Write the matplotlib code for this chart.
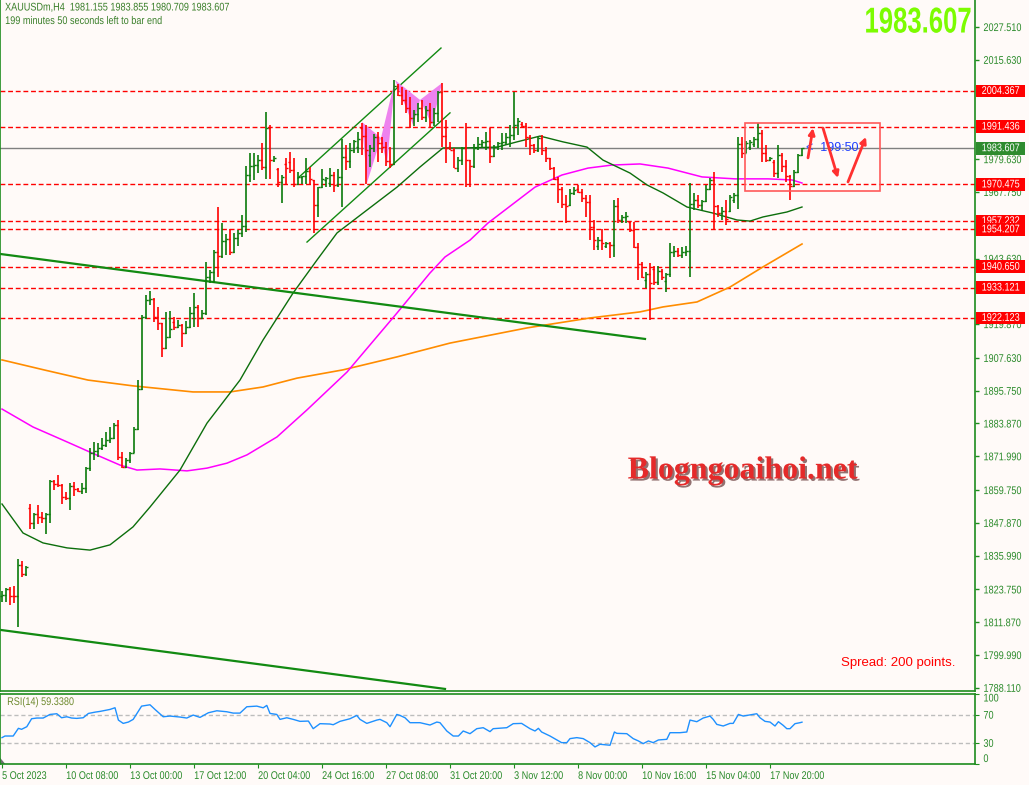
import numpy as np
import matplotlib
matplotlib.use("Agg")
import matplotlib.pyplot as plt
from matplotlib.patches import Polygon, Rectangle
from matplotlib.transforms import Affine2D
import matplotlib.patheffects as pe

plt.rcParams['font.family'] = ['Liberation Sans', 'DejaVu Sans']

# ---- H4 bars, XAUUSDm, 5 Oct .. 21 Nov 2023 ----
opens = [
    1821.4, 1821.6, 1823.9, 1821.4, 1821.2, 1832.6, 1829.3, 1853.2, 1847.8, 1851.1,
    1850.0, 1849.6, 1851.2, 1863.0, 1861.9, 1861.6, 1857.2, 1856.9, 1861.2, 1860.1,
    1859.5, 1860.6, 1867.7, 1873.2, 1873.9, 1875.0, 1876.1, 1877.9, 1878.6, 1883.3,
    1871.7, 1868.1, 1870.6, 1873.3, 1881.9, 1896.4, 1922.3, 1928.5, 1929.0, 1922.6,
    1920.2, 1911.1, 1915.3, 1920.5, 1918.9, 1919.5, 1916.5, 1918.9, 1923.8, 1926.2,
    1922.0, 1923.8, 1937.1, 1938.9, 1946.0, 1944.5, 1950.0, 1950.8, 1946.0, 1951.0,
    1953.0, 1955.5, 1973.9, 1977.0, 1977.5, 1979.3, 1976.7, 1991.0, 1979.3, 1976.0,
    1971.5, 1978.0, 1978.5, 1975.7, 1970.8, 1973.0, 1973.4, 1975.5, 1972.0, 1963.2,
    1969.4, 1972.0, 1971.0, 1974.0, 1970.2, 1973.2, 1980.5, 1979.0, 1982.9, 1984.0,
    1991.0, 1988.0, 1981.0, 1983.5, 1987.7, 1985.5, 1984.0, 1979.0, 1978.0, 2006.0,
    2003.0, 2001.0, 1998.0, 1994.5, 1996.0, 1998.0, 1995.0, 1997.5, 1993.0, 1996.5,
    2004.0, 1988.0, 1984.0, 1983.0, 1976.6, 1979.5, 1983.5, 1979.3, 1977.0, 1983.5,
    1985.3, 1985.8, 1986.2, 1980.8, 1984.1, 1985.6, 1986.0, 1987.8, 1988.5, 1992.0,
    1992.5, 1991.5, 1987.8, 1984.7, 1982.9, 1987.2, 1982.9, 1979.9, 1976.3, 1972.3,
    1968.7, 1963.5, 1963.2, 1967.2, 1969.0, 1967.8, 1965.5, 1964.2, 1955.1, 1948.0,
    1950.5, 1948.0, 1949.3, 1948.5, 1962.6, 1957.6, 1958.8, 1956.9, 1954.0, 1947.9,
    1941.5, 1936.0, 1938.2, 1940.0, 1935.0, 1939.0, 1935.5, 1938.2, 1946.0, 1946.5,
    1945.0, 1946.0, 1946.5, 1963.5, 1965.0, 1963.0, 1964.5, 1969.0, 1972.0, 1962.5,
    1960.0, 1961.0, 1961.0, 1965.0, 1966.5, 1985.0, 1982.0, 1984.0, 1985.0, 1987.0,
    1989.0, 1982.0, 1979.5, 1978.7, 1974.5, 1981.0, 1977.0, 1973.5, 1970.0, 1975.0,
    1981.155,
]
highs = [
    1823.2, 1824.3, 1824.6, 1825.0, 1834.8, 1834.0, 1832.2, 1854.7, 1851.4, 1854.3,
    1851.8, 1851.4, 1863.4, 1863.4, 1865.2, 1861.9, 1859.1, 1862.3, 1862.7, 1860.5,
    1862.3, 1868.1, 1875.0, 1877.2, 1876.8, 1878.6, 1880.8, 1882.6, 1884.0, 1885.1,
    1873.5, 1871.4, 1873.5, 1882.6, 1899.6, 1923.0, 1930.4, 1931.9, 1929.5, 1926.0,
    1920.4, 1924.4, 1924.7, 1922.6, 1921.4, 1919.8, 1921.0, 1926.0, 1931.0, 1926.8,
    1925.0, 1942.5, 1939.5, 1946.7, 1962.4, 1956.4, 1952.7, 1954.5, 1952.9, 1954.0,
    1959.4, 1977.1, 1981.7, 1981.7, 1981.1, 1985.5, 1996.8, 1992.0, 1980.7, 1976.5,
    1973.8, 1980.0, 1982.3, 1979.9, 1975.1, 1973.5, 1979.9, 1976.9, 1972.0, 1969.6,
    1976.0, 1973.0, 1976.3, 1975.1, 1975.9, 1987.1, 1984.7, 1985.6, 1986.5, 1989.6,
    1992.6, 1992.0, 1984.7, 1988.9, 1989.6, 1987.7, 1986.0, 1984.0, 2008.4, 2007.0,
    2005.9, 2004.7, 2002.0, 1997.5, 2000.0, 2001.0, 1999.0, 2000.0, 1998.0, 2004.5,
    2007.1, 1994.0, 1986.0, 1983.5, 1980.5, 1984.1, 1992.6, 1979.5, 1985.3, 1987.8,
    1986.6, 1989.6, 1990.8, 1984.7, 1986.0, 1989.0, 1989.0, 1992.0, 2004.1, 1994.4,
    1993.0, 1992.6, 1988.4, 1985.3, 1987.8, 1988.4, 1984.1, 1980.2, 1976.9, 1973.3,
    1969.6, 1966.5, 1969.0, 1969.6, 1970.2, 1969.0, 1966.6, 1966.6, 1957.6, 1951.5,
    1954.5, 1949.7, 1949.6, 1964.8, 1965.4, 1959.4, 1960.6, 1957.2, 1956.9, 1949.1,
    1942.5, 1938.8, 1941.9, 1941.0, 1941.0, 1940.0, 1938.5, 1949.1, 1948.0, 1947.3,
    1947.9, 1948.0, 1971.0, 1967.3, 1966.7, 1965.0, 1970.2, 1972.7, 1975.1, 1963.0,
    1962.4, 1964.8, 1966.7, 1967.3, 1987.8, 1987.5, 1986.3, 1986.6, 1987.5, 1992.6,
    1990.2, 1984.8, 1980.5, 1979.3, 1984.8, 1982.0, 1979.3, 1974.0, 1975.7, 1981.5,
    1983.855,
]
lows = [
    1819.2, 1819.2, 1818.1, 1818.8, 1810.1, 1828.2, 1828.6, 1845.6, 1845.6, 1847.4,
    1847.8, 1843.8, 1847.8, 1859.8, 1860.9, 1854.7, 1856.2, 1852.5, 1857.6, 1858.9,
    1858.3, 1858.7, 1866.7, 1870.6, 1871.7, 1874.3, 1875.4, 1876.8, 1878.4, 1870.6,
    1867.7, 1867.6, 1869.6, 1873.0, 1881.5, 1896.0, 1921.8, 1926.8, 1920.8, 1917.7,
    1907.9, 1910.8, 1915.0, 1917.7, 1918.4, 1911.7, 1916.2, 1918.4, 1918.9, 1918.9,
    1921.7, 1923.2, 1934.7, 1934.7, 1937.0, 1944.0, 1944.9, 1944.9, 1945.6, 1948.0,
    1951.5, 1953.3, 1971.5, 1972.0, 1974.5, 1975.7, 1972.6, 1972.6, 1978.7, 1969.6,
    1963.8, 1970.8, 1974.5, 1969.4, 1970.2, 1970.8, 1970.8, 1970.2, 1953.0, 1958.5,
    1969.2, 1969.6, 1969.6, 1967.8, 1969.6, 1962.4, 1975.7, 1976.3, 1981.7, 1981.7,
    1981.1, 1970.8, 1976.9, 1982.3, 1978.7, 1981.7, 1977.0, 1976.5, 1977.5, 2002.5,
    1999.3, 1996.3, 1991.0, 1991.5, 1993.0, 1994.0, 1993.0, 1991.4, 1991.5, 1993.0,
    1984.1, 1978.1, 1982.8, 1976.3, 1975.1, 1977.5, 1969.6, 1969.6, 1976.6, 1982.9,
    1983.5, 1982.9, 1978.1, 1980.5, 1982.9, 1982.9, 1984.7, 1984.1, 1986.6, 1988.4,
    1991.0, 1984.1, 1981.1, 1981.7, 1982.3, 1981.1, 1978.7, 1975.7, 1972.0, 1963.6,
    1962.0, 1956.4, 1962.8, 1966.6, 1967.2, 1964.2, 1958.8, 1950.3, 1946.7, 1946.7,
    1946.7, 1947.3, 1943.7, 1944.3, 1956.4, 1956.4, 1956.4, 1953.3, 1947.3, 1936.0,
    1936.5, 1932.8, 1921.4, 1934.0, 1934.0, 1936.0, 1931.6, 1937.0, 1944.3, 1944.3,
    1943.7, 1944.5, 1936.9, 1961.2, 1961.8, 1961.2, 1964.0, 1968.4, 1954.5, 1958.8,
    1957.6, 1955.8, 1960.6, 1963.6, 1961.5, 1979.9, 1981.7, 1983.0, 1984.0, 1983.6,
    1978.7, 1978.7, 1979.0, 1973.3, 1972.7, 1975.0, 1971.5, 1964.8, 1969.5, 1974.5,
    1980.709,
]
closes = [
    1821.6, 1823.9, 1821.4, 1821.2, 1832.6, 1829.3, 1831.9, 1847.8, 1851.1, 1850.0,
    1849.6, 1851.2, 1863.0, 1861.9, 1861.6, 1857.2, 1856.9, 1861.2, 1860.1, 1859.5,
    1860.6, 1867.7, 1873.2, 1873.9, 1875.0, 1876.1, 1877.9, 1878.6, 1883.3, 1871.7,
    1868.1, 1870.6, 1873.3, 1881.9, 1896.4, 1922.3, 1928.5, 1929.0, 1922.6, 1920.2,
    1911.1, 1915.3, 1918.0, 1918.9, 1919.5, 1916.5, 1918.9, 1923.8, 1926.2, 1922.0,
    1923.8, 1937.1, 1938.9, 1946.0, 1944.5, 1950.0, 1950.8, 1946.0, 1951.0, 1953.0,
    1955.5, 1973.9, 1977.0, 1977.5, 1979.3, 1976.7, 1991.0, 1979.3, 1980.0, 1971.5,
    1973.0, 1976.5, 1975.7, 1970.8, 1973.0, 1973.4, 1975.5, 1972.5, 1963.2, 1969.4,
    1972.6, 1972.8, 1974.0, 1970.2, 1973.2, 1980.5, 1979.0, 1982.9, 1986.3, 1987.0,
    1988.0, 1982.9, 1983.5, 1987.7, 1985.5, 1984.0, 1979.0, 1978.0, 2006.0, 2003.0,
    2001.0, 1998.0, 1994.5, 1996.0, 1998.0, 1995.0, 1997.5, 1993.0, 1996.5, 2004.0,
    1988.0, 1983.5, 1983.0, 1976.6, 1979.5, 1983.5, 1979.3, 1977.0, 1983.5, 1985.3,
    1985.8, 1986.2, 1980.8, 1984.1, 1985.6, 1986.0, 1987.8, 1988.5, 1992.0, 1993.5,
    1991.5, 1987.8, 1984.7, 1982.9, 1987.2, 1982.9, 1979.9, 1976.3, 1972.3, 1968.7,
    1963.5, 1962.5, 1967.2, 1968.4, 1967.8, 1965.5, 1964.2, 1955.1, 1950.3, 1950.5,
    1949.1, 1949.3, 1948.5, 1962.6, 1957.6, 1958.8, 1959.0, 1954.0, 1947.9, 1941.5,
    1937.0, 1938.2, 1934.6, 1935.0, 1939.0, 1937.0, 1938.2, 1946.0, 1946.5, 1945.0,
    1946.0, 1946.5, 1963.5, 1965.0, 1963.0, 1964.5, 1969.0, 1972.0, 1962.5, 1960.0,
    1961.0, 1958.0, 1966.0, 1966.5, 1985.0, 1982.0, 1985.5, 1985.8, 1987.0, 1989.0,
    1982.0, 1979.5, 1980.0, 1974.5, 1981.0, 1977.0, 1973.5, 1970.0, 1975.0, 1981.1,
    1983.607,
]

# moving averages, read as (bar, price) points
ma_fast_bar = [0, 5.25, 10.25, 16.25, 22, 27, 32.75, 37, 44.5, 51.25, 59.5, 65.25, 72.75,
               78.75, 83.75, 90.25, 98.75, 104.5, 110.25, 115.25, 123.75, 128.75, 134.5,
               140.25, 146.25, 150.25, 157, 161.25, 165.25, 171.25, 177.75, 183.75, 187,
               190.25, 196.25, 200]
ma_fast_val = [1854.7, 1844.2, 1840.6, 1838.8, 1838.0, 1839.9, 1846.4, 1853.6, 1867.0, 1884.0,
               1899.6, 1914.1, 1931.1, 1943.1, 1952.9, 1960.1, 1969.5, 1976.8, 1983.7, 1983.7,
               1984.0, 1985.9, 1988.0, 1985.9, 1984.0, 1979.3, 1974.6, 1970.3, 1967.4, 1962.3,
               1960.1, 1957.6, 1957.2, 1958.7, 1960.5, 1962.3]
ma_mid_bar = [0, 7.75, 16.25, 22, 29.5, 33.75, 39.5, 46.25, 51.25, 56.25, 61.25, 68.75, 76.25,
              86.25, 98.75, 107, 110.75, 117, 121.5, 133.25, 140, 146.5, 152.5, 159.5, 166.5,
              175, 183.25, 191.5, 197.5, 200]
ma_mid_val = [1889.1, 1882.6, 1877.2, 1873.5, 1868.8, 1867.0, 1867.4, 1866.7, 1867.7, 1869.5,
              1872.5, 1879.0, 1888.8, 1902.5, 1923.9, 1938.4, 1944.2, 1950.3, 1956.5, 1969.5,
              1973.9, 1976.4, 1977.5, 1977.9, 1976.4, 1973.2, 1972.5, 1972.5, 1972.1, 1971.0]
ma_slow_bar = [0, 10.75, 21.5, 32.75, 47.75, 57, 65.25, 73.75, 85.25, 98.75, 112, 131.25, 147,
               159.5, 165.25, 173.75, 182, 190.25, 200]
ma_slow_val = [1906.9, 1903.2, 1899.6, 1897.5, 1895.3, 1895.3, 1897.1, 1900.3, 1903.3, 1908.0,
               1913.0, 1918.5, 1922.1, 1924.3, 1926.1, 1927.9, 1933.3, 1940.6, 1948.9]

# RSI(14), read as (bar, value) points
rsi_bar = [0, 0.75, 2.8, 4.1, 4.9, 6.2, 7.4, 8.7, 10.3, 12, 13.7, 14.9, 16.2, 17.4, 18.7, 20.3,
           21.6, 23.3, 24.5, 27, 28.25, 29.1, 30.3, 31.6, 32.8, 34.9, 37, 38.25, 40.3, 42, 44.5,
           46.2, 47.8, 49.5, 51.6, 53.7, 56.2, 57.8, 59.5, 61.2, 63.7, 65.3, 66.2, 67, 68.7,
           69.5, 71.2, 72.8, 74.5, 76.6, 77.8, 79.5, 82, 82.8, 84.5, 87, 88.7, 89.5, 91.2, 93.7,
           94.5, 96.2, 97, 98.7, 99.5, 100.75, 102, 104.5, 107, 108.7, 109.5, 111.2, 112.8,
           114.1, 115.3, 117, 118.7, 120.3, 122, 122.8, 126.2, 127.8, 129.9, 132, 133.25, 134.1,
           134.9, 137, 138.7, 139.9, 141.2, 142, 143.7, 145.3, 147, 148.25, 149.5, 152, 153.1,
           153.7, 156.2, 157.8, 159.1, 160.3, 161.6, 162.8, 164.1, 166.2, 167, 169.5, 171.2,
           172, 173.7, 175.3, 177, 177.8, 178.7, 180.3, 182, 182.8, 184.1, 185.3, 188.7, 189.5,
           190.75, 192, 193.25, 194.1, 195.3, 196.2, 197, 198.25, 199.5, 200]
rsi_val = [37.4, 39.7, 39.7, 50.6, 49.2, 52.9, 64.2, 65.2, 65.2, 70.3, 71.3, 65.6, 67.0, 65.2,
           64.7, 65.6, 71.7, 73.6, 74.6, 77.4, 79.8, 62.3, 57.6, 59.5, 63.3, 82.1, 84.0, 77.4,
           67.0, 68.0, 66.6, 65.2, 69.4, 66.1, 72.7, 75.5, 74.1, 72.2, 72.2, 81.2, 82.1, 79.7,
           83.1, 71.7, 70.3, 63.3, 65.6, 63.3, 60.5, 60.9, 50.1, 57.2, 56.7, 55.7, 60.5, 64.2,
           68.9, 63.3, 57.6, 62.3, 63.3, 58.6, 52.9, 70.3, 68.9, 65.6, 58.6, 58.6, 55.3, 59.5,
           58.6, 46.8, 39.7, 39.7, 46.8, 43.0, 50.1, 51.5, 45.9, 50.1, 51.5, 57.2, 57.6, 50.1,
           46.8, 50.6, 45.4, 39.7, 34.1, 30.3, 30.3, 36.0, 37.4, 36.0, 30.3, 24.2, 28.0, 26.6,
           45.4, 43.5, 43.0, 36.0, 32.7, 28.9, 32.7, 30.3, 34.1, 35.0, 44.4, 44.4, 45.4, 62.3,
           60.0, 65.2, 68.0, 63.3, 56.2, 53.9, 57.6, 57.6, 70.3, 68.0, 71.3, 65.6, 60.5, 59.5,
           53.9, 60.0, 54.8, 50.1, 50.1, 57.2, 58.6, 59.338]

levels = [2004.367, 1991.436, 1970.475, 1957.232, 1954.207, 1940.650, 1933.121, 1922.123]
last_price = 1983.607
price_ticks = [2027.510, 2015.630, 1979.630, 1967.750, 1943.630, 1919.870, 1907.630, 1895.750,
               1883.870, 1871.990, 1859.750, 1847.870, 1835.990, 1823.750, 1811.870, 1799.990,
               1788.110]
date_bars = [0, 16, 32, 48, 64, 80, 96, 112, 128, 144, 160, 176, 192]
date_labels = ['5 Oct 2023', '10 Oct 08:00', '13 Oct 00:00', '17 Oct 12:00', '20 Oct 04:00',
               '24 Oct 16:00', '27 Oct 08:00', '31 Oct 20:00', '3 Nov 12:00', '8 Nov 00:00',
               '10 Nov 16:00', '15 Nov 04:00', '17 Nov 20:00']

# drawn objects (bar, price)
trend_long_1 = [(-0.5, 1945.3), (160.75, 1914.5)]
trend_long_2 = [(-0.5, 1809.1), (110.75, 1787.7)]
channel_up = [(74, 1972.8), (109.75, 2019.9)]
channel_dn = [(76.25, 1949.6), (112, 1996.4)]
harmonic_1 = [(90, 1993.1), (91.25, 1971.0), (94.75, 1987.3), (96.25, 1977.5), (98.25, 2008.3)]
harmonic_2 = [(98.25, 2008.3), (102.75, 1992.0), (104.5, 2001.1), (107.5, 1992.0), (110, 2007.2)]
box = [(185.75, 1968.1), (219.5, 1992.8)]
arrows = [[(201.5, 1980.1), (202.75, 1990.9)],
          [(205.25, 1990.9), (209, 1972.8)],
          [(211.5, 1971.4), (216, 1987.7)]]

BG = '#FFFAF8'
FRAME = '#1E8C1E'
TXT = '#2A8A2A'
UP = '#0B7A0B'
DOWN = '#FF0000'


class Squeeze(pe.AbstractPathEffect):
    """Scale a text path about its own anchor (narrow / tall terminal font look)."""

    def __init__(self, sx=1.0, sy=1.0, anchor='left'):
        super().__init__()
        self.sx, self.sy, self.anchor = sx, sy, anchor

    def draw_path(self, renderer, gc, tpath, affine, rgbFace=None):
        bb = tpath.get_extents(affine)
        x0 = {'left': bb.x0, 'right': bb.x1, 'center': (bb.x0 + bb.x1) / 2}[self.anchor]
        y0 = (bb.y0 + bb.y1) / 2
        t = affine + Affine2D().translate(-x0, -y0).scale(self.sx, self.sy).translate(x0, y0)
        renderer.draw_path(gc, tpath, t, rgbFace)


NARROW = 0.82

W, H = 1029, 785
fig = plt.figure(figsize=(W / 100, H / 100), dpi=100)
fig.patch.set_facecolor(BG)


def px_axes(x0, y0, x1, y1):
    return fig.add_axes([x0 / W, 1 - y1 / H, (x1 - x0) / W, (y1 - y0) / H])


ax = px_axes(0, 0, 975, 691)
rax = px_axes(0, 693.5, 975, 764)
for a in (ax, rax):
    a.set_facecolor(BG)
    a.set_xlim(-0.5, 243.25)
    for s in a.spines.values():
        s.set_color(FRAME)
        s.set_linewidth(1.2)
ax.spines['top'].set_visible(False)
ax.set_ylim(1786.95, 2037.3)

# levels and price line
for lv in levels:
    ax.axhline(lv, color='#FF0000', lw=1, dashes=(3.5, 2), zorder=1)
ax.axhline(last_price, color='#808080', lw=1, zorder=1)

# moving averages
ax.plot(ma_slow_bar, ma_slow_val, color='#FF8C00', lw=1.2, zorder=2)
ax.plot(ma_mid_bar, ma_mid_val, color='#FF00FF', lw=1.1, zorder=2)
ax.plot(ma_fast_bar, ma_fast_val, color='#0C6E0C', lw=1.0, zorder=2)

# trend lines and channel
for ln, lw in ((trend_long_1, 1.6), (trend_long_2, 1.6), (channel_up, 1.0), (channel_dn, 1.0)):
    xs, ys = zip(*ln)
    ax.plot(xs, ys, color='#128A12', lw=lw, zorder=2)

# harmonic patterns
for pat in (harmonic_1, harmonic_2):
    ax.add_patch(Polygon(pat[:3], closed=True, fc='#EE82EE', ec='none', zorder=2))
    ax.add_patch(Polygon(pat[2:], closed=True, fc='#EE82EE', ec='none', zorder=2))

# OHLC bars
o = np.array(opens); h = np.array(highs); l = np.array(lows); c = np.array(closes)
idx = np.arange(len(c))
cols = np.where(c >= o, UP, DOWN)
ax.vlines(idx, l, h, colors=cols, lw=1.2, zorder=3)
ax.hlines(o, idx - 0.55, idx, colors=cols, lw=1.0, zorder=3)
ax.hlines(c, idx, idx + 0.55, colors=cols, lw=1.0, zorder=3)

# box and arrows
(bx0, by0), (bx1, by1) = box
ax.add_patch(Rectangle((bx0, by0), bx1 - bx0, by1 - by0, fill=False, ec='#FF5A5A', lw=1.2, zorder=4))
for (x0, y0), (x1, y1) in arrows:
    ax.annotate('', xy=(x1, y1), xytext=(x0, y0),
                arrowprops=dict(arrowstyle='-|>', color='#FF3030', lw=2, mutation_scale=9,
                                shrinkA=0, shrinkB=0), zorder=5)
ax.text(201.0, last_price, '<  199:50', color='#2040FF', fontsize=9, va='center', zorder=4)

small_texts = []

# right price axis
ax.yaxis.tick_right()
ax.set_yticks(price_ticks)
ax.set_yticklabels(['%.3f' % t for t in price_ticks])
ax.tick_params(axis='y', colors=FRAME, labelcolor=TXT, length=3, width=1, pad=3, labelsize=8)
ax.set_xticks([])

tag_texts = []
for lv, fc in [(v, '#FF0000') for v in levels] + [(last_price, '#2E8B2E')]:
    tag_texts.append(ax.annotate('%.3f' % lv, xy=(1, lv), xycoords=('axes fraction', 'data'),
                                 xytext=(1.8, 0), textcoords='offset points', ha='left', va='center',
                                 color='white', fontsize=8, annotation_clip=False, zorder=6,
                                 bbox=dict(boxstyle='square,pad=0.12', fc=fc, ec='none')))

# RSI panel
rax.set_ylim(0, 100)
rax.axhline(70, color='#BDBDBD', lw=1, dashes=(3, 2))
rax.axhline(30, color='#BDBDBD', lw=1, dashes=(3, 2))
rax.plot(rsi_bar, rsi_val, color='#1E90FF', lw=1)
rax.yaxis.tick_right()
rax.set_yticks([0, 30, 70, 100])
rax.set_yticklabels(['0', '30', '70', '100'])
rax.tick_params(axis='y', colors=FRAME, labelcolor=TXT, length=3, pad=3, labelsize=8)
rax.get_yticklabels()[0].set_va('bottom')
rax.get_yticklabels()[3].set_va('top')
rax.set_xticks(date_bars)
rax.set_xticklabels(date_labels, ha='left')
rax.tick_params(axis='x', colors=FRAME, labelcolor=TXT, length=3, pad=2, labelsize=8)
rax.add_patch(Polygon([(0, 0), (0.0055, 0), (0, 0.09)], closed=True, transform=rax.transAxes,
                      fc='#6E6E6E', ec='none'))

# texts
small_texts.append(fig.text(5 / W, 1 - 7.5 / H, 'XAUUSDm,H4  1981.155 1983.855 1980.709 1983.607',
                            color='#3A7F2A', fontsize=8, va='center'))
small_texts.append(fig.text(5 / W, 1 - 21 / H, '199 minutes 50 seconds left to bar end',
                            color='#3A7F2A', fontsize=8, va='center'))
small_texts.append(fig.text(7 / W, 1 - 702 / H, 'RSI(14) 59.3380', color='#6E8A2E', fontsize=8,
                            va='center'))
fig.text(955 / W, 1 - 663 / H, 'Spread: 200 points.', color='#FF0000', fontsize=9.5,
         ha='right', va='center')

big = fig.text(972 / W, 1 - 22 / H, '1983.607', color='#7CFC00', fontsize=18.5, fontweight='bold',
               ha='right', va='center')
big.set_path_effects([Squeeze(1.0, 1.4, 'right')])

fig.text(743 / W, 1 - 471 / H, 'Blogngoaihoi.net', color='#E52A2A', fontsize=23,
         fontweight='bold', family=['Liberation Serif', 'DejaVu Serif'], ha='center', va='center',
         path_effects=[pe.SimplePatchShadow(offset=(1.5, -1.5), shadow_rgbFace='#3A0000', alpha=0.55),
                       pe.Normal()])

# narrow the small terminal-style texts
fig.canvas.draw()
for t in small_texts + ax.get_yticklabels() + rax.get_yticklabels() + rax.get_xticklabels():
    t.set_path_effects([Squeeze(NARROW, 1.0, 'left')])
for t in tag_texts:
    t.set_path_effects([Squeeze(NARROW, 1.0, 'center')])

fig.savefig('out.png', dpi=100, facecolor=BG)
